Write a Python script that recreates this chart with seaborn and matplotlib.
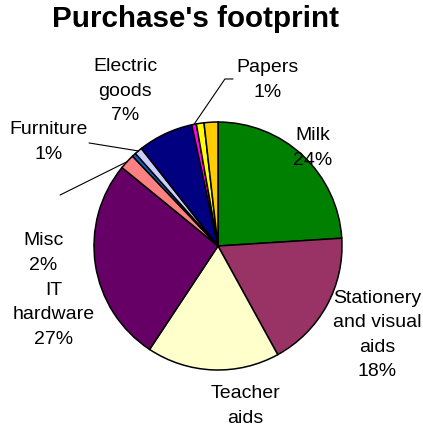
import numpy as np
import matplotlib
matplotlib.use("Agg")
import matplotlib.pyplot as plt
import seaborn as sns

# Spending share per category (percent of total), clockwise from 12 o'clock
categories = ["Milk", "Stationery and visual aids", "Teacher aids", "IT hardware",
              "Misc", "Cabling", "Furniture", "Electric goods", "Papers",
              "Cleaning", "Books"]
shares = [24.0, 18.0, 17.3, 26.6, 2.0, 0.5, 1.0, 7.2, 0.6, 1.0, 1.8]
# Text shown next to each slice (None = slice without a label)
label_names = ["Milk", "Stationery\nand visual\naids", "Teacher\naids", "IT\nhardware",
               "Misc", None, "Furniture", "Electric\ngoods", "Papers", None, None]
# Whether the percentage line is printed under the name
show_pct = [True, True, False, True, True, False, True, True, True, False, False]
slice_colors = ["#008000", "#993366", "#FFFFCC", "#660066", "#FF8080", "#0066CC",
                "#CCCCFF", "#000080", "#FF00FF", "#FFFF00", "#FFCC00"]

sns.set_theme(style="white")
plt.rcParams["font.family"] = ["Liberation Sans", "DejaVu Sans"]

W, H, DPI = 423, 428, 100
fig = plt.figure(figsize=(W / DPI, H / DPI), dpi=DPI)
fig.patch.set_facecolor("white")

# Pie centred at (218, 246) px with a 124 px radius
cx, cy, r = 218, 246, 124
ax = fig.add_axes([(cx - r) / W, (H - cy - r) / H, 2 * r / W, 2 * r / H])
palette = sns.color_palette(slice_colors)
wedges, _ = ax.pie(shares, colors=palette, startangle=90, counterclock=False,
                   radius=1.0,
                   wedgeprops=dict(edgecolor="black", linewidth=1.1))
ax.set_xlim(-1, 1)
ax.set_ylim(-1, 1)
ax.axis("off")

# Label anchor positions in pie units (radius = 1)
label_pos = {
    "Milk": (0.766, 0.790),
    "Stationery and visual aids": (1.286, -0.718),
    "Teacher aids": (0.218, -1.29),
    "IT hardware": (-1.323, -0.556),
    "Misc": (-1.411, -0.056),
    "Furniture": (-1.363, 0.839),
    "Electric goods": (-0.75, 1.25),
    "Papers": (0.403, 1.339),
}
total = sum(shares)
for cat, name, val, pct in zip(categories, label_names, shares, show_pct):
    if name is None:
        continue
    x, y = label_pos[cat]
    txt = f"{name}\n{val / total * 100:.0f}%" if pct else name
    ax.text(x, y, txt, ha="center", va="center",
            multialignment="center", fontsize=14, color="black",
            linespacing=1.56, clip_on=False)

# Leader lines from labels to the outer edge of the thin slices
def edge_point(idx):
    w = wedges[idx]
    mid = np.deg2rad((w.theta1 + w.theta2) / 2)
    return np.cos(mid), np.sin(mid)

leaders = {
    "Misc": [(-1.274, 0.411)],
    "Furniture": [(-1.040, 0.831)],
    "Papers": [(0.121, 1.347), (0.056, 1.347)],
}
for cat, pts in leaders.items():
    ex, ey = edge_point(categories.index(cat))
    xs = [p[0] for p in pts] + [ex]
    ys = [p[1] for p in pts] + [ey]
    ax.plot(xs, ys, color="black", linewidth=0.8, clip_on=False)

fig.text(195 / W, 1 - 27 / H, "Purchase's footprint", ha="center", va="baseline",
         fontsize=21.3, fontweight="bold", color="black")

fig.savefig("out.png", dpi=DPI, facecolor="white")
